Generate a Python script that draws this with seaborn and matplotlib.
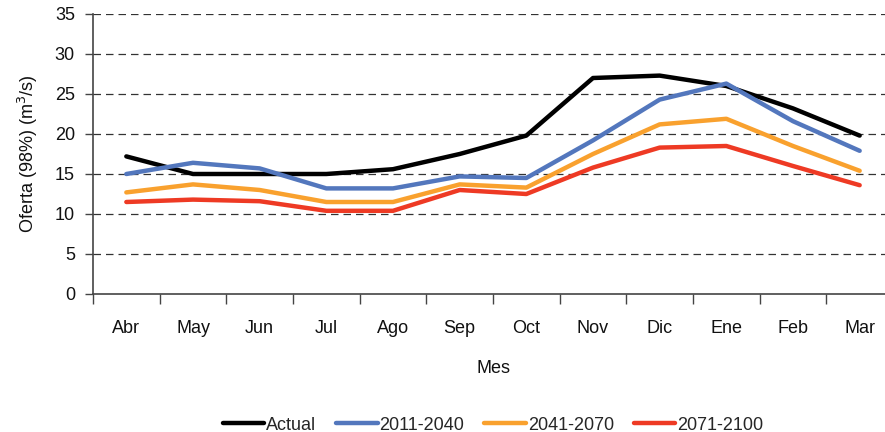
import pandas as pd
import numpy as np
import seaborn as sns
import matplotlib.pyplot as plt

# monthly supply (98% exceedance) per scenario
meses = ['Abr', 'May', 'Jun', 'Jul', 'Ago', 'Sep', 'Oct', 'Nov', 'Dic', 'Ene', 'Feb', 'Mar']
actual = [17.2, 15.0, 15.0, 15.0, 15.6, 17.5, 19.8, 27.0, 27.3, 26.0, 23.2, 19.8]
s2011_2040 = [15.0, 16.4, 15.7, 13.2, 13.2, 14.7, 14.5, 19.2, 24.3, 26.3, 21.6, 17.9]
s2041_2070 = [12.7, 13.7, 13.0, 11.5, 11.5, 13.7, 13.3, 17.5, 21.2, 21.9, 18.5, 15.4]
s2071_2100 = [11.5, 11.8, 11.6, 10.4, 10.4, 13.0, 12.5, 15.8, 18.3, 18.5, 16.0, 13.6]

series = {'Actual': actual, '2011-2040': s2011_2040,
          '2041-2070': s2041_2070, '2071-2100': s2071_2100}
colores = ['#000000', '#5377BD', '#F9A12E', '#EE3A24']

df = pd.concat([pd.DataFrame({'mes': meses, 'oferta': v, 'escenario': k})
                for k, v in series.items()], ignore_index=True)
df['x'] = df.groupby('escenario').cumcount()

sns.set_style('white')
plt.rcParams['font.family'] = ['Liberation Sans', 'DejaVu Sans']
fs = 13

fig = plt.figure(figsize=(8.85, 4.32), dpi=100)
ax = fig.add_axes([93/885, 138/432, 800/885, 280/432])

sns.lineplot(data=df, x='x', y='oferta', hue='escenario', palette=colores,
             linewidth=3.2, ax=ax, sort=False)

ax.set_xlim(-0.5, 11.5)
ax.set_ylim(0, 35)
ax.set_yticks(np.arange(0, 36, 5))
ax.set_xticks(range(len(meses)))
ax.set_xticklabels(meses)
ax.set_xticks(np.arange(-0.5, 12, 1), minor=True)
ax.tick_params(axis='x', which='major', length=0, pad=19, labelsize=fs, labelcolor='#111111')
ax.tick_params(axis='x', which='minor', length=7, width=1, color='#444444', direction='out')
ax.tick_params(axis='y', length=6, width=1, color='#444444', direction='out', labelsize=fs,
               pad=7, labelcolor='#111111')
ax.tick_params(bottom=True, left=True, which='both')

for y in np.arange(5, 36, 5):
    ax.axhline(y, color='#333333', linestyle=(0, (6, 4)), linewidth=0.9, zorder=0)

sns.despine(ax=ax)
for s in ['left', 'bottom']:
    ax.spines[s].set_color('#444444')
    ax.spines[s].set_linewidth(1.2)

ax.set_xlabel('Mes', fontsize=fs, labelpad=16, color='#111111')
ax.set_ylabel('Oferta (98%) (m$^3$/s)', fontsize=fs, labelpad=11, color='#111111')

ax.legend(loc='center', bbox_to_anchor=(0.5, -0.468), ncol=4, frameon=False,
          fontsize=fs, handlelength=2.3, handletextpad=0.1, columnspacing=1.1)

fig.savefig('out.png', dpi=100)
